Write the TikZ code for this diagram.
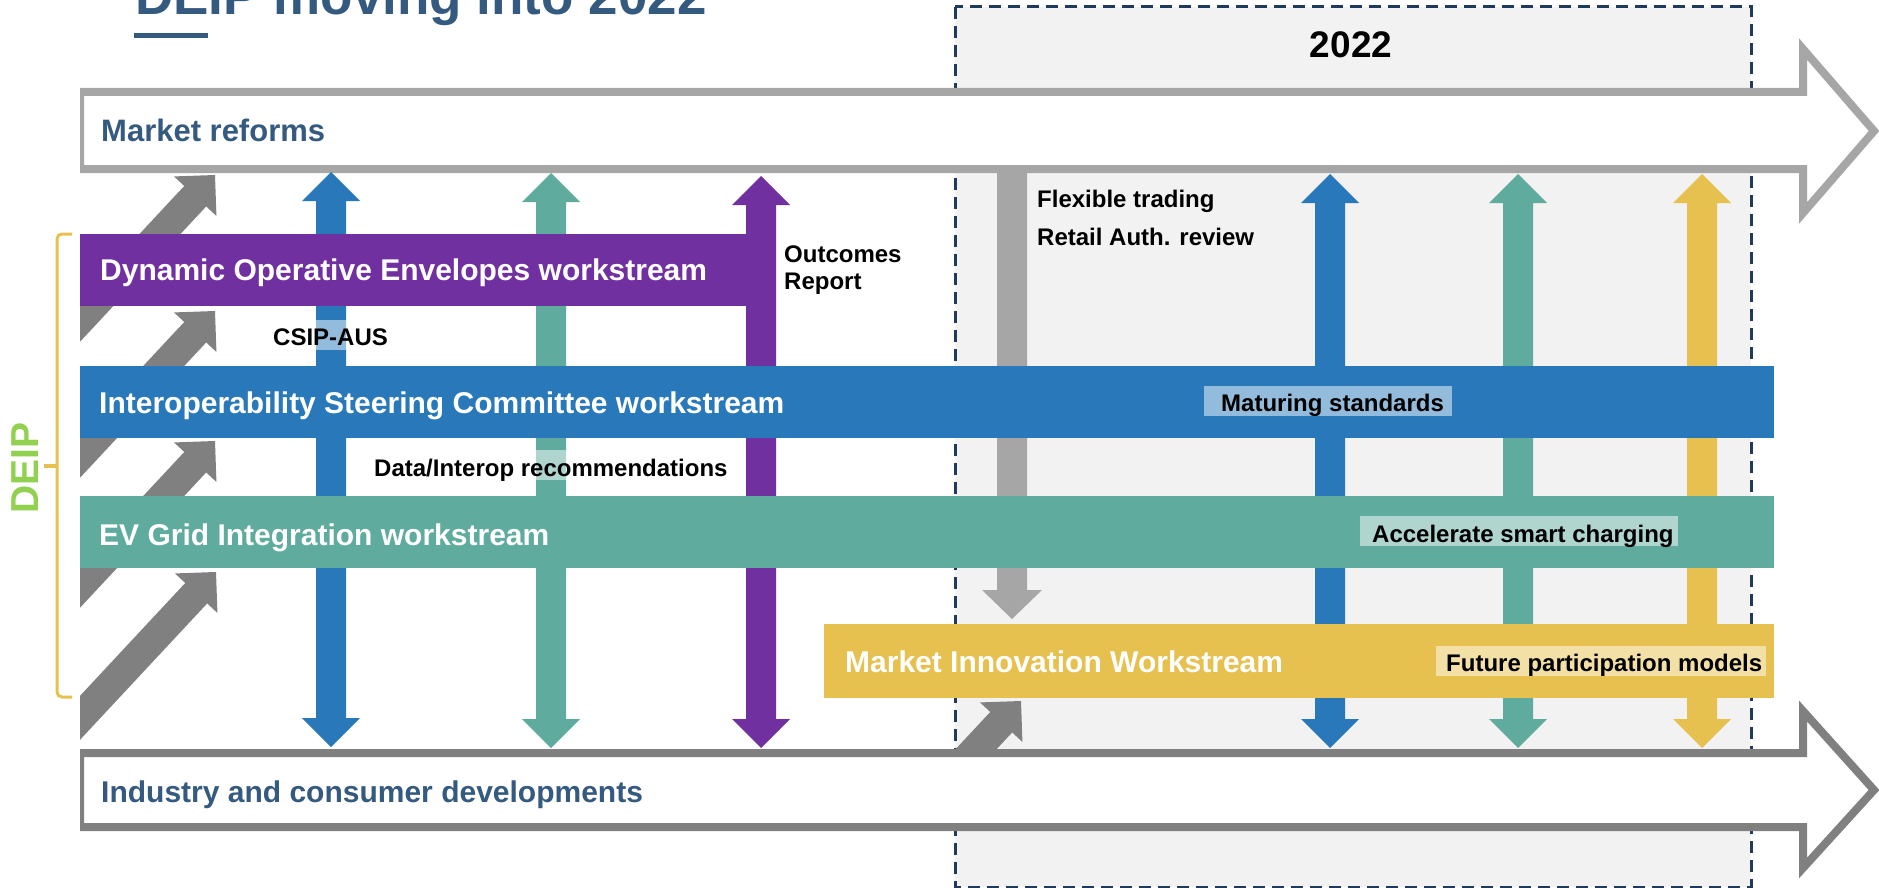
\documentclass[tikz,border=0pt]{standalone}
\usepackage{fontspec}
\setmainfont{Liberation Sans}
\definecolor{cpurple}{HTML}{7030A0}
\definecolor{cblue}{HTML}{2878BA}
\definecolor{cteal}{HTML}{5FAB9E}
\definecolor{cyellow}{HTML}{E6C14F}
\definecolor{cdgray}{HTML}{808080}
\definecolor{clgray}{HTML}{A6A6A6}
\definecolor{cnavy}{HTML}{355A80}
\definecolor{cdash}{HTML}{203A5C}
\definecolor{cbox}{HTML}{F2F2F2}
\definecolor{cgreen}{HTML}{92D050}
% vertical double block arrow: x, ytop, ybottom, colour
\newcommand\dblarrow[4]{%
  \fill[#4] (#1,#2) -- (#1+29,#2+29) -- (#1+15,#2+29) -- (#1+15,#3-29) -- (#1+29,#3-29)
   -- (#1,#3) -- (#1-29,#3-29) -- (#1-15,#3-29) -- (#1-15,#2+29) -- (#1-29,#2+29) -- cycle;}
% diagonal block arrow ending at tip (x,y)
\newcommand\diagarrow[2]{%
  \begin{scope}[shift={(#1,#2)}, rotate=47]
    \fill[cdgray] (0,0) -- (-29,29) -- (-29,15) -- (-420,15) -- (-420,-15) -- (-29,-15) -- (-29,-29) -- cycle;
  \end{scope}}
\begin{document}
\begin{tikzpicture}[x=1pt,y=-1pt,
  bar/.style={anchor=north west, inner sep=0pt, outer sep=0pt},
  bartext/.style={anchor=base west, inner sep=0pt, text=white, font=\bfseries\fontsize{30}{36}\selectfont},
  flowtext/.style={anchor=base west, inner sep=0pt, text=cnavy, font=\bfseries\fontsize{31}{36}\selectfont},
  lbl/.style={anchor=base west, inner sep=0pt, text=black, font=\bfseries\fontsize{24}{28}\selectfont},
  lblbox/.style={fill=white, fill opacity=0.5},
  flowarrow/.style={line width=8pt, fill=white, line join=miter},
]
\useasboundingbox (0,0) rectangle (1879,888);
\clip (0,0) rectangle (1879,888);

% title
\node[anchor=base west, inner sep=0pt, text=cnavy, font=\bfseries\fontsize{53}{60}\selectfont] (title) at (135,15) {DEIP moving into 2022};
\fill[cnavy] (134,33) rectangle (208,38);

% 2022 period box
\draw[cdash, line width=3pt, dash pattern=on 12pt off 7pt, fill=cbox] (955,7) rectangle (1751,887);
\node[anchor=base, inner sep=0pt, font=\bfseries\fontsize{37}{40}\selectfont] (yr) at (1351,58) {2022};

% big flow arrows
\begin{scope}
  \clip (80,0) rectangle (1879,888);
  \draw[flowarrow, draw=clgray] (80,92) -- (1803,92) -- (1803,49) -- (1874,131) -- (1803,213) -- (1803,169) -- (80,169) -- cycle;
  \draw[flowarrow, draw=cdgray] (80,753) -- (1803,753) -- (1803,711) -- (1874,790) -- (1803,868) -- (1803,827) -- (80,827) -- cycle;
\end{scope}
\node[flowtext] (mr) at (101,142) {Market reforms};
\node[flowtext, font=\bfseries\fontsize{30}{36}\selectfont] (icd) at (101,802) {Industry and consumer developments};

% vertical arrows
\dblarrow{331}{172}{747}{cblue}
\dblarrow{551}{173}{748}{cteal}
\dblarrow{761}{176}{748}{cpurple}
\dblarrow{1330}{174}{748}{cblue}
\dblarrow{1518}{174}{748}{cteal}
\dblarrow{1702}{174}{748}{cyellow}
\fill[clgray] (997,173) -- (1027,173) -- (1027,590) -- (1042,590) -- (1012,619) -- (982,590) -- (997,590) -- cycle;

% diagonal arrows
\begin{scope}
  \clip (80,173) rectangle (240,749);
  \diagarrow{215}{175}
  \diagarrow{215}{311}
  \diagarrow{215}{441}
  \diagarrow{216}{572}
\end{scope}
\begin{scope}
  \clip (955,698) rectangle (1100,749);
  \diagarrow{1021}{701}
\end{scope}

% workstream bars
\node[bar, fill=cpurple, minimum width=695pt, minimum height=72pt] (doe) at (80,234) {};
\node[bar, fill=cblue, minimum width=1694pt, minimum height=72pt] (isc) at (80,366) {};
\node[bar, fill=cteal, minimum width=1694pt, minimum height=72pt] (evg) at (80,496) {};
\node[bar, fill=cyellow, minimum width=950pt, minimum height=74pt] (miw) at (824,624) {};
\node[bartext] at (100,280) {Dynamic Operative Envelopes workstream};
\node[bartext] at (99,413) {Interoperability Steering Committee workstream};
\node[bartext] at (99,545) {EV Grid Integration workstream};
\node[bartext] at (845,672) {Market Innovation Workstream};

% label boxes
\fill[lblbox] (268,320) rectangle (388,350);
\fill[lblbox] (369,450) rectangle (729,480);
\fill[lblbox] (1204,386) rectangle (1452,416);
\fill[lblbox] (1360,516) rectangle (1678,546);
\fill[lblbox] (1436,646) rectangle (1766,676);

% labels
\node[lbl] at (273,345) {CSIP-AUS};
\node[lbl] at (374,476) {Data/Interop recommendations};
\node[lbl] at (784,262) {Outcomes};
\node[lbl] at (784,289) {Report};
\node[lbl] at (1037,207) {Flexible trading};
\node[lbl] at (1037,245) {Retail Auth. review};
\node[lbl] at (1221,411) {Maturing standards};
\node[lbl] at (1372,542) {Accelerate smart charging};
\node[lbl] at (1446,671) {Future participation models};

% DEIP bracket
\draw[cyellow, line width=3pt, rounded corners=5pt] (72,234) -- (57,234) -- (57,697) -- (72,697);
\draw[cyellow, line width=4pt] (44,466) -- (57,466);
\node[rotate=90, inner sep=0pt, text=cgreen, font=\bfseries\fontsize{39}{44}\selectfont] (deip) at (25,468) {DEIP};
\end{tikzpicture}
\end{document}
